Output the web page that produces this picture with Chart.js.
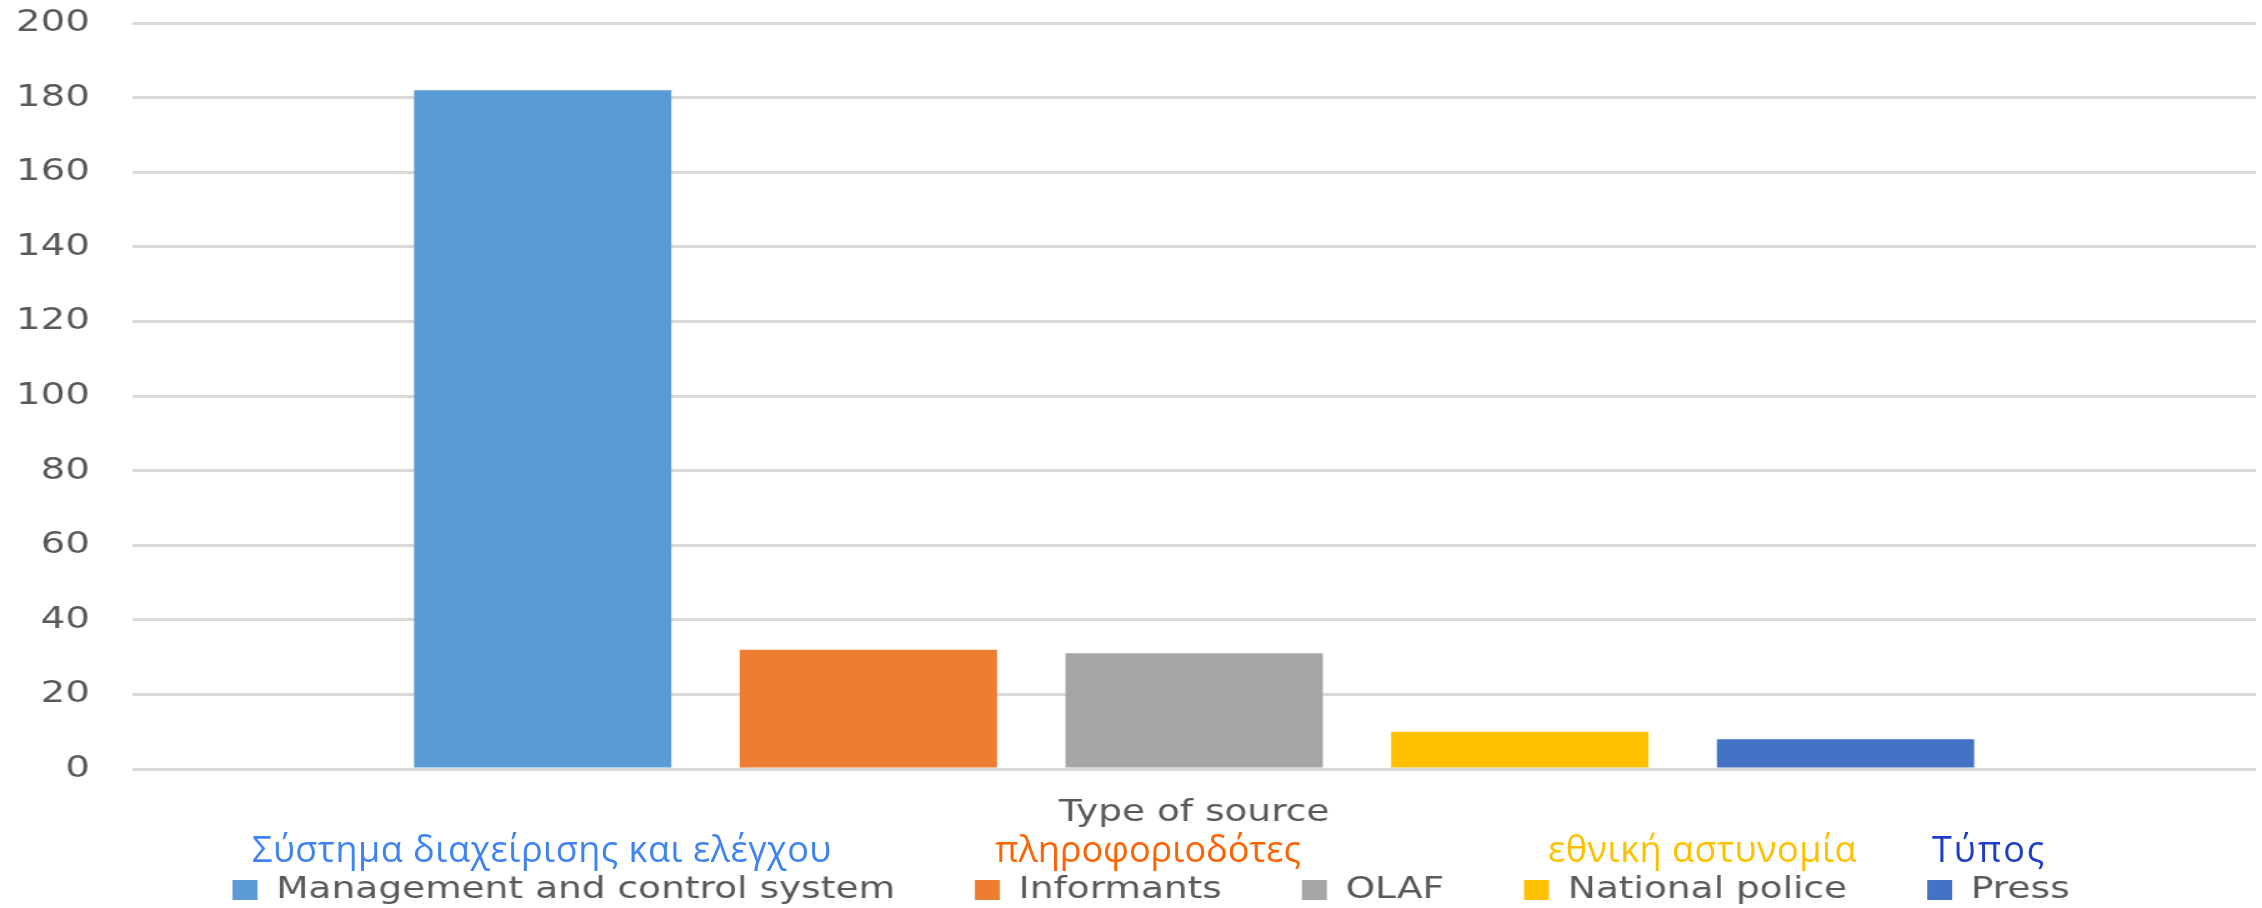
<!DOCTYPE html>
<html>
	<head>
		<title>Type of source</title>
		<style type="text/css">
			body { margin: 0; background: #ffffff; }
			#chart-container {
				position: relative;
				width: 2262px;
				height: 908px;
				overflow: hidden;
			}
			#mycanvas { position: absolute; left: 0; top: 0; }
			.note {
				position: absolute;
				font-family: "Open Sans", sans-serif;
				font-size: 36px;
				line-height: 36px;
				letter-spacing: 0.5px;
				white-space: nowrap;
			}
		</style>
	</head>
	<body>
		<div id="chart-container">
			<!-- drawn 1810 wide and shown 2262 wide, like the stretched original -->
			<canvas id="mycanvas" width="1810" height="908" style="width:2262px;height:908px"></canvas>
			<div class="note" style="left:252px; top:831px; color:#3f83f2;">Σύστημα διαχείρισης και ελέγχου</div>
			<div class="note" style="left:995px; top:831px; color:#ff6200; letter-spacing:0;">πληροφοριοδότες</div>
			<div class="note" style="left:1548px; top:831px; color:#ffc000;">εθνική αστυνομία</div>
			<div class="note" style="left:1932px; top:831px; color:#1e3ec8; letter-spacing:2px;">Τύπος</div>
		</div>

		<script type="text/javascript" src="https://cdn.jsdelivr.net/npm/chart.js@4/dist/chart.umd.min.js"></script>
		<script>
			var categories = ['Type of source'];
			var seriesNames = ['Management and control system', 'Informants', 'OLAF', 'National police', 'Press'];
			var seriesValues = [182, 32, 31, 10, 8];
			var seriesColors = ['#5b9bd5', '#ed7d31', '#a5a5a5', '#ffc000', '#4472c4'];
			var yTickLabels = [0, 20, 40, 60, 80, 100, 120, 140, 160, 180, 200];

			Chart.defaults.font.family = 'DejaVu Sans';
			Chart.defaults.color = '#595959';

			var datasets = [];
			for (var i in seriesNames) {
				datasets.push({
					label: seriesNames[i],
					data: [seriesValues[i]],
					backgroundColor: seriesColors[i],
					borderWidth: 0,
					categoryPercentage: 0.767,
					barPercentage: 0.79
				});
			}

			// legend sits a bit right of centre and closer to the axis label in the original
			var legendShift = {
				id: 'legendShift',
				afterLayout: function(chart) {
					chart.legend.left = 37;
					chart.legend.top -= 20;
				}
			};

			var ctx = document.getElementById('mycanvas');

			var barGraph = new Chart(ctx, {
				type: 'bar',
				data: {
					labels: categories,
					datasets: datasets
				},
				plugins: [legendShift],
				options: {
					responsive: false,
					animation: false,
					layout: {
						padding: { top: 23, right: 5, bottom: 0, left: 0 }
					},
					plugins: {
						tooltip: { enabled: false },
						legend: {
							position: 'bottom',
							maxHeight: 77,
							labels: {
								boxWidth: 20,
								boxHeight: 20,
								padding: 64,
								color: '#595959',
								font: { size: 30 }
							}
						}
					},
					scales: {
						x: {
							grid: { display: false, drawTicks: false },
							border: { display: false },
							ticks: { padding: 26, color: '#595959', font: { size: 30 } },
							afterFit: function(s) { s.height = 62; }
						},
						y: {
							min: 0,
							max: 200,
							afterBuildTicks: function(s) {
								s.ticks = yTickLabels.map(function(v) { return { value: v }; });
							},
							grid: { color: '#d9d9d9', lineWidth: 3, drawTicks: false },
							border: { display: false },
							ticks: { padding: 34, color: '#595959', font: { size: 31 } },
							afterFit: function(s) {
								s.width = 106;
								s.paddingTop = 0;
								s.paddingBottom = 0;
							}
						}
					}
				}
			});
		</script>
	</body>
</html>
